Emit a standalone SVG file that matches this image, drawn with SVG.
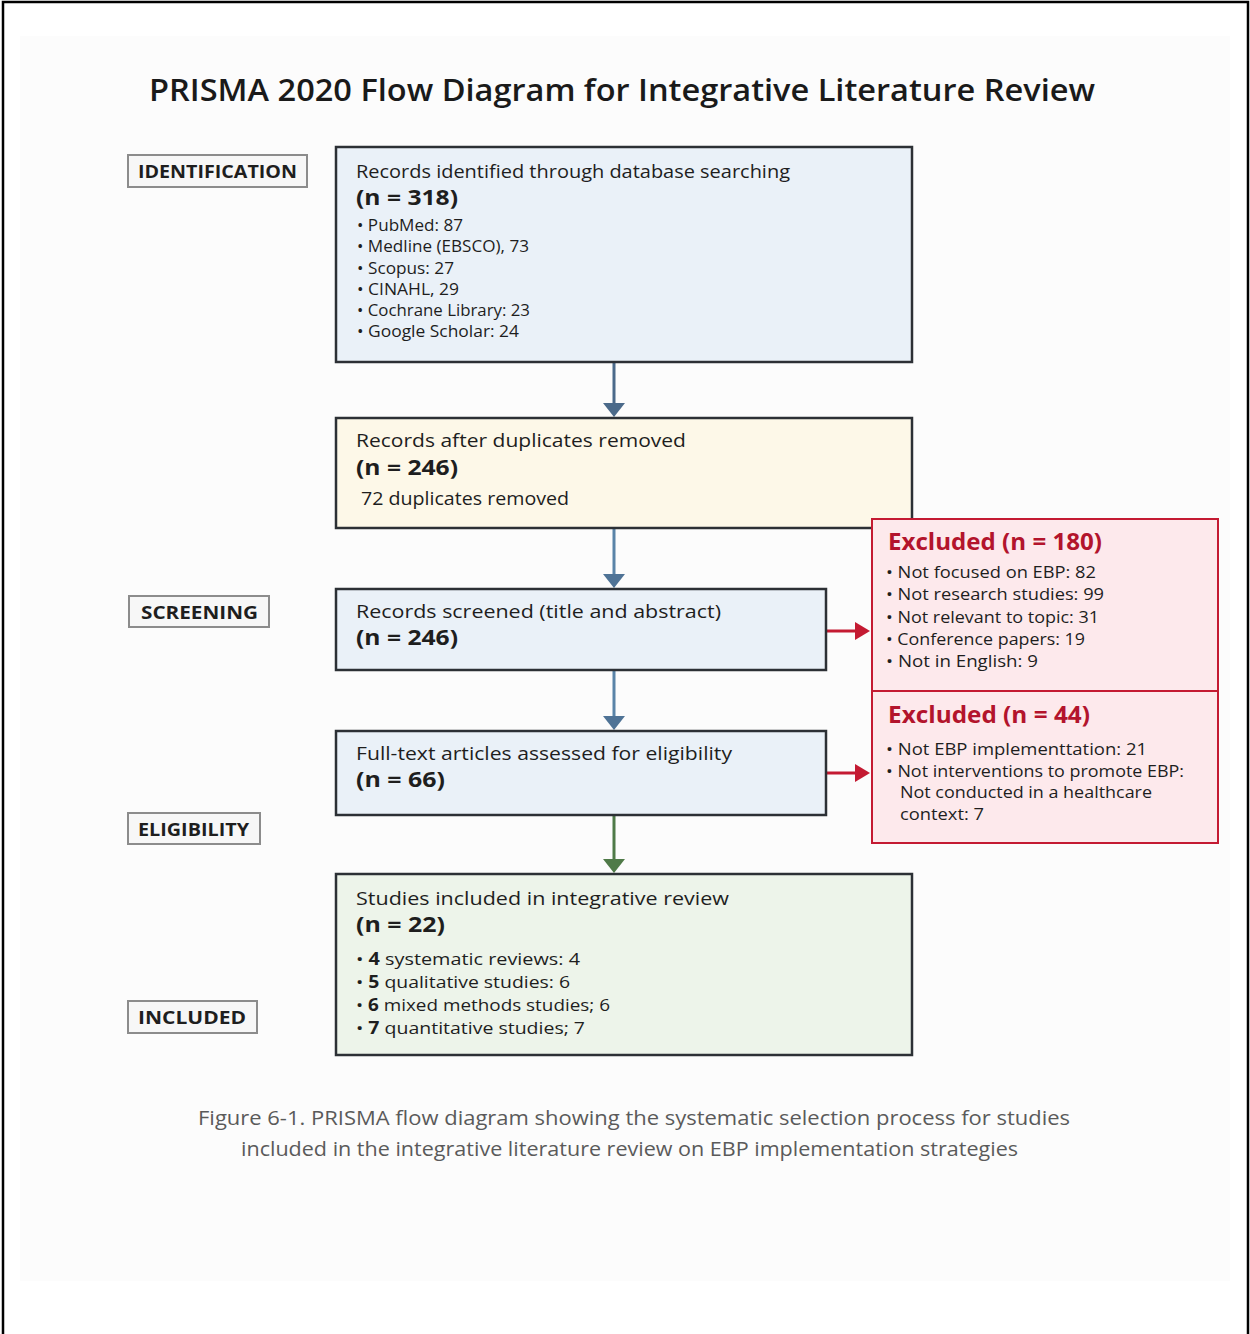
<svg xmlns="http://www.w3.org/2000/svg" width="1250" height="1334" viewBox="0 0 1250 1334">
<defs>
<style>
text{font-family:"Open Sans","Noto Sans","DejaVu Sans",sans-serif;fill:#1e1e1e}
.title{font-size:30px;font-weight:600;fill:#1a1a1a}
.stage rect{fill:#f7f7f7;stroke:#8c8c8c;stroke-width:2}
.stage text{font-size:17.5px;font-weight:700}
.box{stroke:#2c3035;stroke-width:2.5}
.blue{fill:#eaf1f8}
.cream{fill:#fdf8e8}
.green{fill:#edf4ea}
.pink{fill:#fde9ec;stroke:#c41a32;stroke-width:2}
.hd{font-size:19px}
.n{font-size:20.5px;font-weight:700}
.li{font-size:15.5px}
.li2{font-size:17px}
.exh{font-size:22.5px;font-weight:700;fill:#b3142c}
.ex{font-size:16.5px}
.cap{font-size:19.5px;fill:#5a5a5a}
.frame{stroke:#000;stroke-width:2.5;fill:none}
</style>
</defs>
<rect width="1250" height="1334" fill="#ffffff"/>
<rect x="20" y="36" width="1210" height="1245" fill="#fcfcfc"/>
<path class="frame" d="M3,1334 V2 H1248 V1334"/>

<text class="title" x="149" y="101" textLength="946" lengthAdjust="spacingAndGlyphs">PRISMA 2020 Flow Diagram for Integrative Literature Review</text>

<g id="stage-identification" class="stage"><rect x="128" y="155" width="179" height="32"/><text x="138" y="178" textLength="159" lengthAdjust="spacingAndGlyphs">IDENTIFICATION</text></g>
<g id="stage-screening" class="stage"><rect x="129" y="596" width="140" height="31"/><text x="141" y="619" textLength="117" lengthAdjust="spacingAndGlyphs">SCREENING</text></g>
<g id="stage-eligibility" class="stage"><rect x="128" y="813" width="132" height="31"/><text x="138" y="836" textLength="111" lengthAdjust="spacingAndGlyphs">ELIGIBILITY</text></g>
<g id="stage-included" class="stage"><rect x="128" y="1001" width="129" height="32"/><text x="138" y="1024" textLength="108" lengthAdjust="spacingAndGlyphs">INCLUDED</text></g>

<g id="connectors">
<line x1="614" y1="362" x2="614" y2="404" stroke="#4b6a8a" stroke-width="3"/>
<path d="M603,403 L625,403 L614,417 z" fill="#4b6a8a"/>
<line x1="614" y1="528" x2="614" y2="575" stroke="#5a84a8" stroke-width="3"/>
<path d="M603,574 L625,574 L614,588 z" fill="#4f7396"/>
<line x1="614" y1="670" x2="614" y2="717" stroke="#5a84a8" stroke-width="3"/>
<path d="M603,716 L625,716 L614,730 z" fill="#4f7396"/>
<line x1="614" y1="815" x2="614" y2="860" stroke="#4f7a48" stroke-width="3"/>
<path d="M603,859 L625,859 L614,873 z" fill="#4f7a48"/>
<line x1="826" y1="631" x2="857" y2="631" stroke="#c41a32" stroke-width="3"/>
<path d="M855,622 L870,631 L855,640 z" fill="#c41a32"/>
<line x1="826" y1="773" x2="857" y2="773" stroke="#c41a32" stroke-width="3"/>
<path d="M855,764 L870,773 L855,782 z" fill="#c41a32"/>
</g>

<g id="node-identified">
<rect class="box blue" x="336" y="147" width="576" height="215"/>
<text class="hd" x="356" y="178" textLength="434" lengthAdjust="spacingAndGlyphs">Records identified through database searching</text>
<text class="n" x="356" y="205" textLength="102" lengthAdjust="spacingAndGlyphs">(n = 318)</text>
<text class="li" x="357" y="231" textLength="106" lengthAdjust="spacingAndGlyphs">• PubMed: 87</text>
<text class="li" x="357" y="252" textLength="172" lengthAdjust="spacingAndGlyphs">• Medline (EBSCO), 73</text>
<text class="li" x="357" y="274" textLength="97" lengthAdjust="spacingAndGlyphs">• Scopus: 27</text>
<text class="li" x="357" y="295" textLength="102" lengthAdjust="spacingAndGlyphs">• CINAHL, 29</text>
<text class="li" x="357" y="316" textLength="173" lengthAdjust="spacingAndGlyphs">• Cochrane Library: 23</text>
<text class="li" x="357" y="337" textLength="162" lengthAdjust="spacingAndGlyphs">• Google Scholar: 24</text>
</g>

<g id="node-duplicates">
<rect class="box cream" x="336" y="418" width="576" height="110"/>
<text class="hd" x="356" y="447" textLength="330" lengthAdjust="spacingAndGlyphs">Records after duplicates removed</text>
<text class="n" x="356" y="475" textLength="102" lengthAdjust="spacingAndGlyphs">(n = 246)</text>
<text x="361" y="505" font-size="18" textLength="208" lengthAdjust="spacingAndGlyphs">72 duplicates removed</text>
</g>

<g id="node-screened">
<rect class="box blue" x="336" y="589" width="490" height="81"/>
<text class="hd" x="356" y="618" textLength="365" lengthAdjust="spacingAndGlyphs">Records screened (title and abstract)</text>
<text class="n" x="356" y="645" textLength="102" lengthAdjust="spacingAndGlyphs">(n = 246)</text>
</g>

<g id="node-fulltext">
<rect class="box blue" x="336" y="731" width="490" height="84"/>
<text class="hd" x="356" y="760" textLength="376" lengthAdjust="spacingAndGlyphs">Full-text articles assessed for eligibility</text>
<text class="n" x="356" y="787" textLength="89" lengthAdjust="spacingAndGlyphs">(n = 66)</text>
</g>

<g id="node-included">
<rect class="box green" x="336" y="874" width="576" height="181"/>
<text class="hd" x="356" y="905" textLength="373" lengthAdjust="spacingAndGlyphs">Studies included in integrative review</text>
<text class="n" x="356" y="932" textLength="89" lengthAdjust="spacingAndGlyphs">(n = 22)</text>
<text class="li2" x="356" y="965" textLength="224" lengthAdjust="spacingAndGlyphs">• <tspan font-weight="700">4</tspan> systematic reviews: 4</text>
<text class="li2" x="356" y="988" textLength="214" lengthAdjust="spacingAndGlyphs">• <tspan font-weight="700">5</tspan> qualitative studies: 6</text>
<text class="li2" x="356" y="1011" textLength="254" lengthAdjust="spacingAndGlyphs">• <tspan font-weight="700">6</tspan> mixed methods studies; 6</text>
<text class="li2" x="356" y="1034" textLength="229" lengthAdjust="spacingAndGlyphs">• <tspan font-weight="700">7</tspan> quantitative studies; 7</text>
</g>

<g id="node-excluded-180">
<rect class="pink" x="872" y="519" width="346" height="172"/>
<text class="exh" x="888" y="550" textLength="214" lengthAdjust="spacingAndGlyphs">Excluded (n = 180)</text>
<text class="ex" x="886" y="578" textLength="210" lengthAdjust="spacingAndGlyphs">• Not focused on EBP: 82</text>
<text class="ex" x="886" y="600" textLength="218" lengthAdjust="spacingAndGlyphs">• Not research studies: 99</text>
<text class="ex" x="886" y="623" textLength="213" lengthAdjust="spacingAndGlyphs">• Not relevant to topic: 31</text>
<text class="ex" x="886" y="645" textLength="199" lengthAdjust="spacingAndGlyphs">• Conference papers: 19</text>
<text class="ex" x="886" y="667" textLength="152" lengthAdjust="spacingAndGlyphs">• Not in English: 9</text>
</g>

<g id="node-excluded-44">
<rect class="pink" x="872" y="691" width="346" height="152"/>
<text class="exh" x="888" y="723" textLength="202" lengthAdjust="spacingAndGlyphs">Excluded (n = 44)</text>
<text class="ex" x="886" y="755" textLength="261" lengthAdjust="spacingAndGlyphs">• Not EBP implementtation: 21</text>
<text class="ex" x="886" y="777" textLength="298" lengthAdjust="spacingAndGlyphs">• Not interventions to promote EBP:</text>
<text class="ex" x="900" y="798" textLength="252" lengthAdjust="spacingAndGlyphs">Not conducted in a healthcare</text>
<text class="ex" x="900" y="820" textLength="84" lengthAdjust="spacingAndGlyphs">context: 7</text>
</g>

<text class="cap" x="198" y="1125" textLength="872" lengthAdjust="spacingAndGlyphs">Figure 6-1. PRISMA flow diagram showing the systematic selection process for studies</text>
<text class="cap" x="241" y="1156" textLength="777" lengthAdjust="spacingAndGlyphs">included in the integrative literature review on EBP implementation strategies</text>
</svg>
